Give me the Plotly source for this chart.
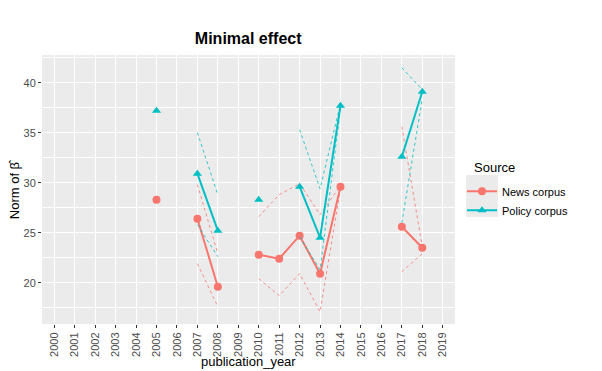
import plotly.graph_objects as go

news_years = [2005, 2007, 2008, 2010, 2011, 2012, 2013, 2014, 2017, 2018]
news_norm = [28.3, 26.4, 19.6, 22.8, 22.4, 24.7, 20.9, 29.6, 25.6, 23.5]
news_upper = [None, 29.8, 22.9, 26.6, 28.8, 29.9, 26.8, 29.7, 35.6, 23.6]
news_lower = [None, 21.9, 17.6, 20.4, 18.7, 20.9, 17.1, 29.4, 21.1, 22.9]

policy_years = [2005, 2007, 2008, 2010, 2012, 2013, 2014, 2017, 2018]
policy_norm = [37.2, 30.9, 25.2, 28.3, 29.6, 24.5, 37.7, 32.6, 39.1]
policy_upper = [None, 35.0, 28.8, None, 35.3, 29.4, 37.9, 41.5, 39.3]
policy_lower = [None, 25.8, 22.6, None, 24.6, 21.3, 37.4, 26.0, 38.4]

year_ticks = list(range(2000, 2020))


def with_gaps(years, vals):
    # break the line where a year is missing
    xs, ys = [], []
    for i, (yr, v) in enumerate(zip(years, vals)):
        if i > 0 and yr - years[i - 1] > 1:
            xs.append(None)
            ys.append(None)
        xs.append(yr)
        ys.append(v)
    return xs, ys


series = [
    ("News corpus", news_years, news_norm, news_upper, news_lower, "#F8766D", "circle"),
    ("Policy corpus", policy_years, policy_norm, policy_upper, policy_lower, "#00BFC4", "triangle-up"),
]

fig = go.Figure()
for name, yrs, norm, up, lo, color, sym in series:
    for band in (up, lo):
        bx, by = with_gaps(yrs, band)
        fig.add_trace(go.Scatter(x=bx, y=by, mode="lines", showlegend=False,
                                 line=dict(color=color, width=1, dash="3px,3px"),
                                 opacity=0.8, hoverinfo="skip"))
    x, y = with_gaps(yrs, norm)
    fig.add_trace(go.Scatter(x=x, y=y, mode="lines+markers", name=name,
                             line=dict(color=color, width=2),
                             marker=dict(color=color, size=8, symbol=sym)))

# grey background behind the legend keys, ggplot style
fig.add_shape(type="rect", xref="paper", yref="paper", x0=1.027, x1=1.104, y0=0.398, y1=0.554,
              fillcolor="#EBEBEB", line_width=0, layer="below")

fig.add_annotation(text="Source", xref="paper", yref="paper", x=1.041, y=0.58,
                   xanchor="left", yanchor="middle", showarrow=False, font=dict(size=13))
fig.add_annotation(text="publication_year", xref="paper", yref="paper", x=0.5, y=-0.141,
                   xanchor="center", yanchor="middle", showarrow=False, font=dict(size=13))
fig.add_annotation(text="Norm of β\u0302", xref="paper", yref="paper", x=-0.066, y=0.5,
                   xanchor="center", yanchor="middle", textangle=-90, showarrow=False,
                   font=dict(size=13))

fig.update_layout(
    width=602, height=371,
    margin=dict(l=34, r=155, t=47, b=55),
    paper_bgcolor="white", plot_bgcolor="#EBEBEB",
    font=dict(family="Liberation Sans, Arial", color="#000000", size=12),
    title=dict(text="<b>Minimal effect</b>", x=0.399, xanchor="center", y=0.918, yanchor="middle",
               font=dict(size=16, color="#000000")),
    legend=dict(x=1.017, xanchor="left", y=0.547, yanchor="top", bgcolor="rgba(0,0,0,0)",
                font=dict(size=11), itemwidth=30, tracegroupgap=2),
    xaxis=dict(automargin=False, range=[1999.4, 2019.6], tickvals=year_ticks,
               ticktext=[str(t) for t in year_ticks], tickangle=-90,
               showgrid=True, gridcolor="white", gridwidth=1, zeroline=False,
               ticks="outside", ticklen=3, tickcolor="#333333",
               tickfont=dict(size=11, color="#4D4D4D")),
    yaxis=dict(automargin=False, range=[15.87, 42.77], tickvals=[20, 25, 30, 35, 40],
               showgrid=True, gridcolor="white", gridwidth=1.2, zeroline=False,
               ticks="outside", ticklen=3, tickcolor="#333333",
               tickfont=dict(size=11, color="#4D4D4D"),
               minor=dict(tickvals=[17.5, 22.5, 27.5, 32.5, 37.5, 42.5], showgrid=True,
                          gridcolor="white", gridwidth=0.6, ticks="")),
)

fig.write_html("out.html")
